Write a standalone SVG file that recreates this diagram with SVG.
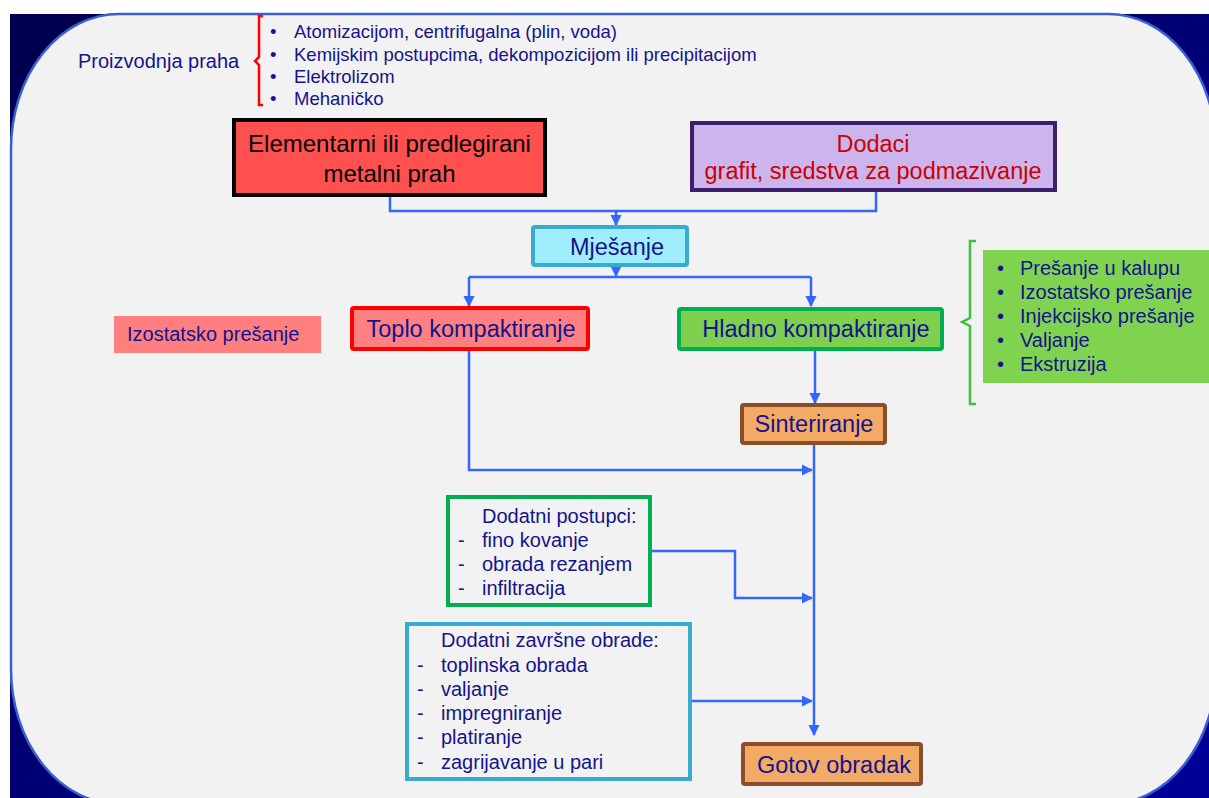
<svg xmlns="http://www.w3.org/2000/svg" width="1209" height="798" viewBox="0 0 1209 798">
<defs>
<linearGradient id="navy" x1="0" y1="0" x2="1" y2="1">
<stop offset="0" stop-color="#00004f"/>
<stop offset="1" stop-color="#000099"/>
</linearGradient>
<marker id="ah" viewBox="0 0 10 10" refX="9" refY="5" markerWidth="4.5" markerHeight="4.5" orient="auto" markerUnits="strokeWidth">
<path d="M0,0 L10,5 L0,10 Z" fill="#3366ff"/>
</marker>
<style>
.t{font-family:"Liberation Sans",Arial,sans-serif;fill:#14148c}
.big{font-size:23.5px}
.sm{font-size:20px}
.box{stroke-width:4}
.conn{fill:none;stroke:#3366ff;stroke-width:2.5}
.arr{marker-end:url(#ah)}
</style>
</defs>
<rect x="0" y="0" width="1209" height="798" fill="#ffffff"/>
<rect x="10" y="14" width="1199" height="784" fill="url(#navy)"/>
<rect x="11" y="14" width="1205" height="790" rx="108" ry="135" fill="#f2f2f2" stroke="#3a5fd0" stroke-width="2.5"/>

<g id="proizvodnja">
<text class="t sm" x="78" y="68" fill="#1e1e9a">Proizvodnja praha</text>
<path d="M263,16 L259,16 L259,57 L255,61 L259,65 L259,105 L263,105" fill="none" stroke="#ff0000" stroke-width="2.5"/>
<g class="t" font-size="18.5">
<text x="270" y="38">•</text><text x="294" y="38">Atomizacijom, centrifugalna (plin, voda)</text>
<text x="270" y="61">•</text><text x="294" y="61">Kemijskim postupcima, dekompozicijom ili precipitacijom</text>
<text x="270" y="83">•</text><text x="294" y="83">Elektrolizom</text>
<text x="270" y="105">•</text><text x="294" y="105">Mehaničko</text>
</g>
</g>

<g id="connectors">
<path class="conn" d="M390,197 V211 H876 V192"/>
<path class="conn arr" d="M616,211 V225"/>
<path class="conn arr" d="M616,266 V276"/>
<path class="conn" d="M469,277 H811"/>
<path class="conn arr" d="M469,277 V306"/>
<path class="conn arr" d="M811,277 V306"/>
<path class="conn arr" d="M815,350 V403"/>
<path class="conn arr" d="M469,350 V470 H812"/>
<path class="conn arr" d="M814,445 V735"/>
<path class="conn arr" d="M652,551 H735 V598 H812"/>
<path class="conn arr" d="M692,701 H812"/>
</g>

<g id="prah">
<rect class="box" x="234" y="120" width="311" height="75" fill="#ff5050" stroke="#000000"/>
<text x="389.5" y="152" text-anchor="middle" font-family="Liberation Sans,Arial,sans-serif" font-size="24" fill="#000">Elementarni ili predlegirani</text>
<text x="389.5" y="182" text-anchor="middle" font-family="Liberation Sans,Arial,sans-serif" font-size="24" fill="#000">metalni prah</text>
</g>

<g id="dodaci">
<rect class="box" x="692" y="123" width="363" height="67" fill="#cbb5ec" stroke="#3d1f6e"/>
<text x="873" y="152" text-anchor="middle" font-family="Liberation Sans,Arial,sans-serif" font-size="23.5" fill="#cc0000">Dodaci</text>
<text x="873" y="179" text-anchor="middle" font-family="Liberation Sans,Arial,sans-serif" font-size="23.5" fill="#cc0000">grafit, sredstva za podmazivanje</text>
</g>

<g id="mjesanje">
<rect class="box" x="533" y="227" width="154" height="38" rx="2" fill="#a0eefd" stroke="#35acd0"/>
<text class="t big" x="617" y="255" text-anchor="middle">Mješanje</text>
</g>

<g id="izostatsko">
<rect x="114" y="316" width="207" height="37" fill="#ff7f7f"/>
<text class="t sm" x="127" y="341" fill="#3a2a8a">Izostatsko prešanje</text>
</g>

<g id="toplo">
<rect class="box" x="352" y="308" width="236" height="41" rx="2" fill="#ff8080" stroke="#ff0000"/>
<text class="t big" x="471" y="337" text-anchor="middle">Toplo kompaktiranje</text>
</g>

<g id="hladno">
<rect class="box" x="679" y="309" width="263" height="40" rx="2" fill="#80d050" stroke="#00b050"/>
<text class="t big" x="816" y="337" text-anchor="middle">Hladno kompaktiranje</text>
</g>

<g id="hladno-lista">
<path d="M976,241 L970,241 L970,318 L962,322 L970,326 L970,404 L976,404" fill="none" stroke="#40c040" stroke-width="2.5"/>
<rect x="983" y="250" width="226" height="133" fill="#80d34e"/>
<g class="t sm">
<text x="997" y="275">•</text><text x="1020" y="275">Prešanje u kalupu</text>
<text x="997" y="299">•</text><text x="1020" y="299">Izostatsko prešanje</text>
<text x="997" y="323">•</text><text x="1020" y="323">Injekcijsko prešanje</text>
<text x="997" y="347">•</text><text x="1020" y="347">Valjanje</text>
<text x="997" y="371">•</text><text x="1020" y="371">Ekstruzija</text>
</g>
</g>

<g id="sinteriranje">
<rect class="box" x="742" y="405" width="143" height="38" rx="2" fill="#f2aa64" stroke="#8b4e2b"/>
<text class="t big" x="814" y="432" text-anchor="middle">Sinteriranje</text>
</g>

<g id="dodatni-postupci">
<rect class="box" x="448" y="497" width="202" height="108" fill="#f2f2f2" stroke="#00b050"/>
<g class="t sm">
<text x="482" y="523">Dodatni postupci:</text>
<text x="458" y="547">-</text><text x="482" y="547">fino kovanje</text>
<text x="458" y="571">-</text><text x="482" y="571">obrada rezanjem</text>
<text x="458" y="595">-</text><text x="482" y="595">infiltracija</text>
</g>
</g>

<g id="zavrsne-obrade">
<rect class="box" x="407" y="624" width="283" height="155" fill="#f2f2f2" stroke="#35acd0"/>
<g class="t sm">
<text x="441" y="647">Dodatni završne obrade:</text>
<text x="417" y="672">-</text><text x="441" y="672">toplinska obrada</text>
<text x="417" y="696">-</text><text x="441" y="696">valjanje</text>
<text x="417" y="720">-</text><text x="441" y="720">impregniranje</text>
<text x="417" y="744">-</text><text x="441" y="744">platiranje</text>
<text x="417" y="769">-</text><text x="441" y="769">zagrijavanje u pari</text>
</g>
</g>

<g id="gotov">
<rect class="box" x="743" y="744" width="178" height="40" rx="2" fill="#f2aa64" stroke="#8b4e2b"/>
<text class="t big" x="834" y="773" text-anchor="middle">Gotov obradak</text>
</g>
</svg>
